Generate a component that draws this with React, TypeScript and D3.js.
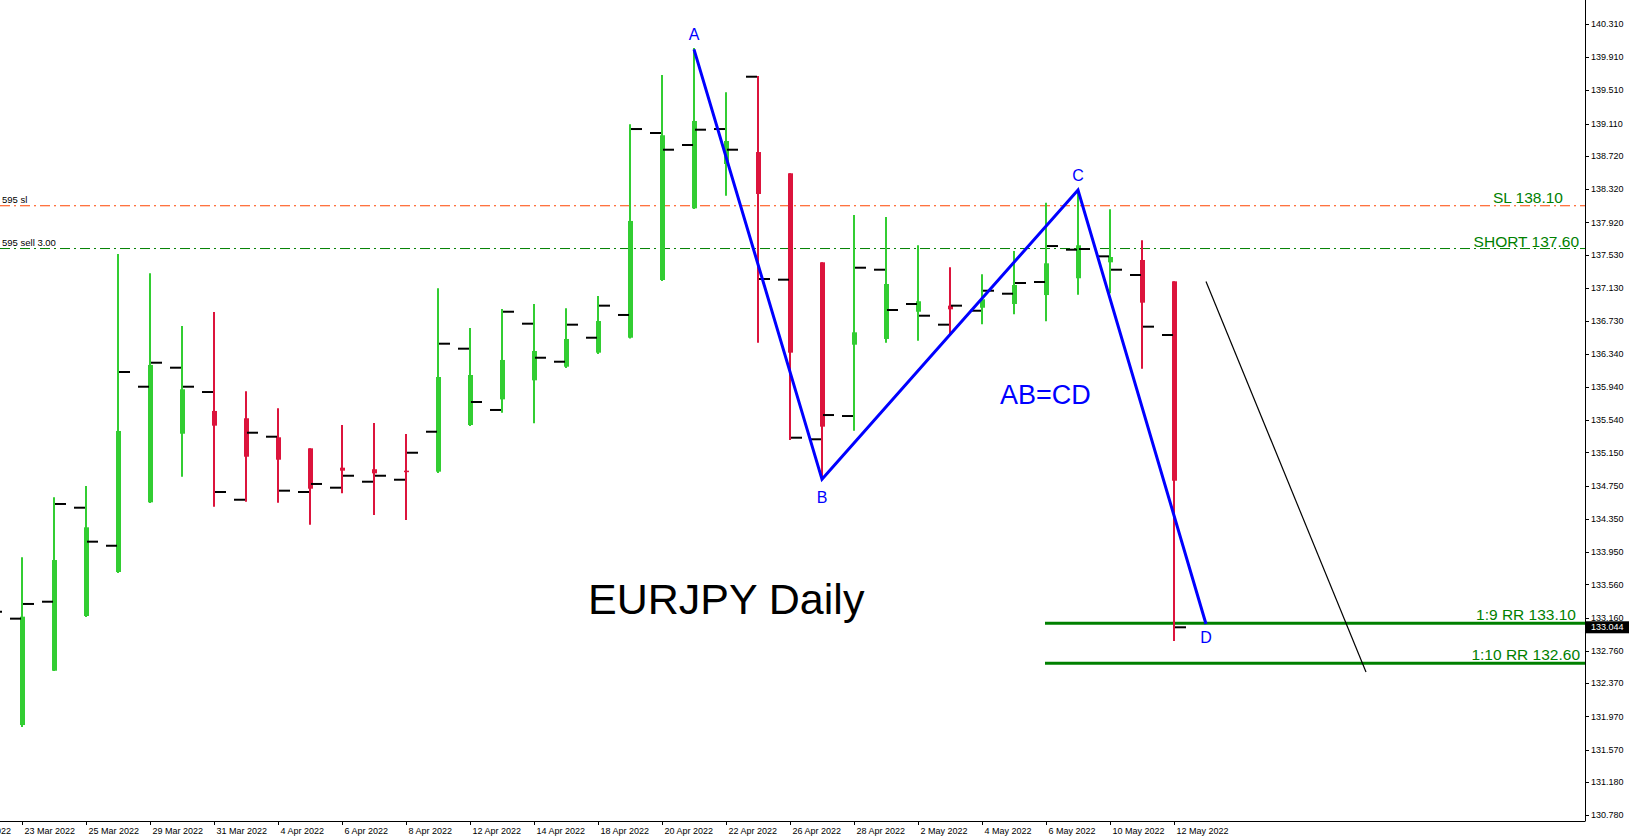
import React from "react";
import * as d3 from "d3";

// Trading days shown on the chart (plus a few future days used by drawn objects)
const days = [
  "21 Mar", "22 Mar", "23 Mar", "24 Mar", "25 Mar", "28 Mar", "29 Mar", "30 Mar", "31 Mar", "1 Apr",
  "4 Apr", "5 Apr", "6 Apr", "7 Apr", "8 Apr", "11 Apr", "12 Apr", "13 Apr", "14 Apr", "15 Apr",
  "18 Apr", "19 Apr", "20 Apr", "21 Apr", "22 Apr", "25 Apr", "26 Apr", "27 Apr", "28 Apr", "29 Apr",
  "2 May", "3 May", "4 May", "5 May", "6 May", "9 May", "10 May", "11 May", "12 May",
  "13 May", "16 May", "17 May", "18 May", "19 May", "20 May",
];

// Candles: 22 Mar .. 12 May
const candleDates = days.slice(1, 39);

// Heiken Ashi candle open / close
const haOpen = [
  131.55, 131.867, 132.521, 133.18, 133.71, 134.549, 135.375, 135.649, 135.561, 135.332,
  135.199, 134.966, 134.947, 134.93, 134.918, 135.48, 135.789, 136.018, 136.182, 136.351,
  136.531, 137.226, 138.089, 138.623, 138.767, 138.511, 137.439, 136.447, 136.516, 136.844,
  136.917, 136.892, 136.937, 137.045, 137.247, 137.439, 137.467, 137.21,
];
const haClose = [
  132.18, 133.172, 133.854, 134.248, 135.408, 136.203, 135.91, 135.472, 135.098, 135.062,
  134.713, 134.93, 134.898, 134.92, 136.058, 136.082, 136.263, 136.371, 136.516, 136.732,
  137.937, 138.969, 139.141, 138.9, 138.262, 136.351, 135.46, 136.596, 137.178, 136.97,
  136.873, 136.994, 137.166, 137.427, 137.644, 137.503, 136.953, 134.809,
];
// Wick high / low
const high = [
  133.4, 133.887, 134.609, 134.745, 137.539, 137.307, 136.672, 136.841, 135.886, 135.681,
  135.199, 135.48, 135.504, 135.372, 137.126, 136.648, 136.877, 136.937, 136.885, 137.033,
  139.101, 139.695, 140.02, 139.486, 139.683, 138.511, 137.439, 138.009, 137.985, 137.644,
  137.379, 137.295, 137.575, 138.157, 138.298, 138.077, 137.704, 137.21,
];
const low = [
  131.55, 131.843, 132.518, 133.168, 133.698, 134.541, 134.857, 134.496, 134.556, 134.544,
  134.279, 134.657, 134.396, 134.336, 134.902, 135.468, 135.628, 135.5, 136.166, 136.335,
  136.522, 137.214, 138.081, 138.241, 136.471, 135.299, 134.826, 135.411, 136.471, 136.495,
  136.564, 136.693, 136.813, 136.729, 137.049, 137.066, 136.158, 132.879,
];
// Real bar open (left tick) / close (right tick)
const barOpen = [
  132.24, 133.148, 133.352, 134.484, 134.026, 135.941, 136.17, 135.877, 134.58, 135.339,
  134.673, 134.725, 134.797, 134.821, 135.399, 136.399, 135.661, 136.7, 136.242, 136.531,
  136.805, 138.996, 138.852, 139.044, 139.674, 137.23, 135.308, 135.588, 137.35, 136.937,
  136.688, 136.856, 137.061, 137.202, 137.591, 137.511, 137.286, 136.564,
];
const barClose = [
  133.232, 133.325, 134.529, 134.075, 136.118, 136.23, 135.941, 134.673, 135.387, 134.689,
  134.77, 134.869, 134.869, 135.146, 136.459, 135.757, 136.844, 136.29, 136.688, 136.917,
  139.044, 138.795, 139.036, 138.795, 137.238, 135.327, 135.6, 137.374, 136.865, 136.796,
  136.917, 137.097, 137.19, 137.635, 137.599, 137.35, 136.664, 133.044,
];

const priceTicks = [
  140.31, 139.91, 139.51, 139.11, 138.72, 138.32, 137.92, 137.53, 137.13, 136.73, 136.34, 135.94,
  135.54, 135.15, 134.75, 134.35, 133.95, 133.56, 133.16, 132.76, 132.37, 131.97, 131.57, 131.18, 130.78,
];
const dateTickDays = [
  "21 Mar", "23 Mar", "25 Mar", "29 Mar", "31 Mar", "4 Apr", "6 Apr", "8 Apr", "12 Apr", "14 Apr",
  "18 Apr", "20 Apr", "22 Apr", "26 Apr", "28 Apr", "2 May", "4 May", "6 May", "10 May", "12 May",
];
const currentPrice = 133.044;

// Pattern points (A, B, C, D)
const patternLabels = ["A", "B", "C", "D"];
const patternDays = ["21 Apr", "27 Apr", "9 May", "13 May"];
const patternPrices = [140.004, 134.826, 138.31, 133.084];

// Black projection line
const projDays = ["13 May", "20 May"];
const projPrices = [137.208, 132.506];

// Horizontal levels
const slPrice = 138.12;
const shortPrice = 137.605;
const tp1Price = 133.092;
const tp2Price = 132.61;

const W = 1629;
const H = 839;
const AXIS_X = 1585;
const AXIS_Y = 821;
const FONT = "'Liberation Sans', Arial, sans-serif";

export default function App() {
  const x = d3
    .scalePoint<string>()
    .domain(days)
    .range([-42, -42 + 32 * (days.length - 1)]);
  const y = d3.scaleLinear().domain([130.78, 140.31]).range([815.3, 23.9]);

  const line = d3
    .line<[number, number]>()
    .x((d) => d[0])
    .y((d) => d[1]);

  const patternPts: [number, number][] = patternDays.map((d, i) => [x(d)!, y(patternPrices[i])]);
  const projPts: [number, number][] = projDays.map((d, i) => [x(d)!, y(projPrices[i])]);
  const labelOffsets = [-15, 18, -15, 13];

  const green = "#32cd32";
  const red = "#dc143c";

  return (
    <svg
      width={W}
      height={H}
      style={{ position: "absolute", left: 0, top: 0, display: "block", background: "#fff" }}
      fontFamily={FONT}
    >
      <rect x={0} y={0} width={W} height={H} fill="#fff" />

      {/* Horizontal level lines */}
      <line x1={0} x2={AXIS_X} y1={y(slPrice)} y2={y(slPrice)} stroke="#ff4500" strokeWidth={1} strokeDasharray="10,4,2,4" />
      <line x1={0} x2={AXIS_X} y1={y(shortPrice)} y2={y(shortPrice)} stroke="#008000" strokeWidth={1} strokeDasharray="10,4,2,4" />
      <line x1={x("6 May")! - 1} x2={AXIS_X} y1={y(tp1Price)} y2={y(tp1Price)} stroke="#008000" strokeWidth={3} />
      <line x1={x("6 May")! - 1} x2={AXIS_X} y1={y(tp2Price)} y2={y(tp2Price)} stroke="#008000" strokeWidth={3} />

      {/* Left trade labels */}
      <text x={2} y={y(slPrice) - 2.5} fontSize={9.5} fill="#000">595 sl</text>
      <text x={2} y={y(shortPrice) - 3} fontSize={9.5} fill="#000">595 sell 3.00</text>

      {/* Candles */}
      {candleDates.map((d, i) => {
        const cx = Math.round(x(d)!);
        const up = haClose[i] >= haOpen[i];
        const color = up ? green : red;
        const yTop = y(Math.max(haOpen[i], haClose[i]));
        const yBot = y(Math.min(haOpen[i], haClose[i]));
        return (
          <g key={d}>
            <line x1={cx} x2={cx} y1={y(high[i])} y2={y(low[i])} stroke={color} strokeWidth={2} />
            <rect x={cx - 2} y={yTop} width={5} height={Math.max(1.5, yBot - yTop)} fill={color} />
            <line x1={cx - 12} x2={cx - 1} y1={y(barOpen[i])} y2={y(barOpen[i])} stroke="#000" strokeWidth={2} />
            <line x1={cx + 1} x2={cx + 12} y1={y(barClose[i])} y2={y(barClose[i])} stroke="#000" strokeWidth={2} />
          </g>
        );
      })}

      {/* ABCD pattern */}
      <path d={line(patternPts)!} fill="none" stroke="#0000ff" strokeWidth={3} strokeLinejoin="miter" />
      {patternLabels.map((l, i) => (
        <text
          key={l}
          x={patternPts[i][0]}
          y={patternPts[i][1] + labelOffsets[i]}
          dy="0.36em"
          fontSize={16}
          fill="#0000ff"
          textAnchor="middle"
        >
          {l}
        </text>
      ))}
      <text x={1000} y={404} fontSize={27} fill="#0000ff">AB=CD</text>

      {/* Projection line */}
      <path d={line(projPts)!} fill="none" stroke="#000" strokeWidth={1.2} />

      {/* Level labels */}
      <text x={1563} y={203} fontSize={15.5} fill="#008000" textAnchor="end">SL 138.10</text>
      <text x={1579} y={246.5} fontSize={15.5} fill="#008000" textAnchor="end">SHORT 137.60</text>
      <text x={1576} y={619.5} fontSize={15.5} fill="#008000" textAnchor="end">1:9 RR 133.10</text>
      <text x={1580} y={660} fontSize={15.5} fill="#008000" textAnchor="end">1:10 RR 132.60</text>

      {/* Title */}
      <text x={588} y={614} fontSize={43} fill="#000">EURJPY Daily</text>

      {/* Axes */}
      <line x1={AXIS_X + 0.5} x2={AXIS_X + 0.5} y1={0} y2={AXIS_Y} stroke="#000" strokeWidth={1} />
      <line x1={0} x2={AXIS_X + 0.5} y1={AXIS_Y + 0.5} y2={AXIS_Y + 0.5} stroke="#000" strokeWidth={1} />
      {priceTicks.map((p) => (
        <g key={p}>
          <line x1={AXIS_X} x2={AXIS_X + 4} y1={Math.round(y(p)) + 0.5} y2={Math.round(y(p)) + 0.5} stroke="#000" />
          <text x={AXIS_X + 6} y={y(p)} dy="0.35em" fontSize={9} fill="#000">
            {p.toFixed(3)}
          </text>
        </g>
      ))}
      <rect x={AXIS_X + 1} y={y(currentPrice) - 6} width={W - AXIS_X - 1} height={12} fill="#000" />
      <text x={AXIS_X + 6} y={y(currentPrice)} dy="0.35em" fontSize={9} fill="#fff">
        {currentPrice.toFixed(3)}
      </text>

      {dateTickDays.map((d) => {
        const tx = Math.round(x(d)!) + 0.5;
        return (
          <g key={d}>
            <line x1={tx} x2={tx} y1={AXIS_Y} y2={AXIS_Y + 4} stroke="#000" />
            <text x={tx + 2} y={AXIS_Y + 13} fontSize={9} fill="#000">
              {d} 2022
            </text>
          </g>
        );
      })}
    </svg>
  );
}
